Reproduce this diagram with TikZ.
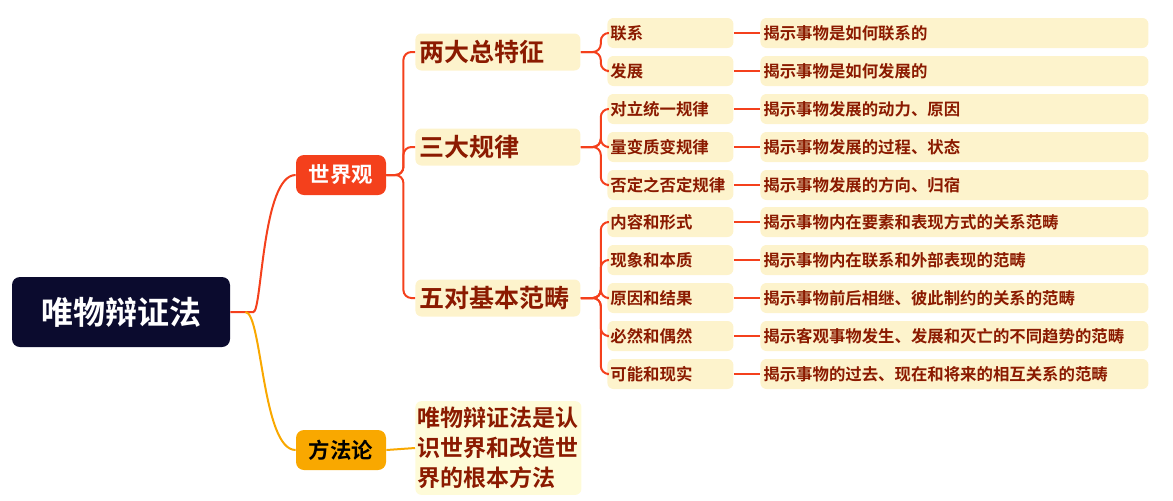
\documentclass[tikz,border=0pt]{standalone}
\usepackage{fontspec}
\setmainfont{Noto Sans CJK SC}[BoldFont={Noto Sans CJK SC Bold}]
\XeTeXlinebreaklocale "zh"
\XeTeXlinebreakskip=0pt plus 1pt
\definecolor{navy}{HTML}{0B0B2E}
\definecolor{redorange}{HTML}{F4401C}
\definecolor{amber}{HTML}{F9A800}
\definecolor{cream}{HTML}{FDF3CC}
\definecolor{paper}{HTML}{FEFBD8}
\definecolor{darkred}{HTML}{8B1A00}
\tikzset{
  root/.style={fill=navy,text=white,rounded corners=4pt,minimum width=109pt,minimum height=35pt,font=\bfseries\fontsize{16}{19}\selectfont},
  branch/.style={rounded corners=4pt,minimum width=45pt,minimum height=20pt,font=\bfseries\fontsize{10.7}{12}\selectfont},
  topic/.style={fill=cream,text=darkred,rounded corners=3pt,minimum width=82.5pt,minimum height=18.5pt,anchor=west,align=left,text width=78pt,inner xsep=2pt,font=\bfseries\fontsize{12.5}{14}\selectfont},
  sub/.style={fill=cream,text=darkred,rounded corners=3pt,minimum width=62pt,minimum height=15pt,anchor=west,text width=60pt,inner xsep=1.5pt,font=\bfseries\fontsize{8.2}{9}\selectfont},
  desc/.style={fill=cream,text=darkred,rounded corners=3pt,minimum width=194pt,minimum height=15pt,anchor=west,text width=191pt,inner xsep=1.5pt,font=\bfseries\fontsize{8.2}{9}\selectfont},
  link/.style={draw=redorange,line width=1pt,rounded corners=4pt}
}
\begin{document}
\begin{tikzpicture}[x=0.5pt,y=-0.5pt]
  \useasboundingbox (0,0) rectangle (1173,500);

  % root and the two branches
  \node[root] (root) at (121,312) {唯物辩证法};
  \node[branch,fill=redorange,text=white] (world) at (341,175) {世界观};
  \node[branch,fill=amber,text=black] (method) at (341,450) {方法论};

  % topics
  \node[topic] (two) at (415,52) {两大总特征};
  \node[topic] (three) at (415,147) {三大规律};
  \node[topic] (five) at (415,298) {五对基本范畴};
  \node[topic,fill=paper,text width=81pt,inner xsep=1pt,inner ysep=3pt,font=\bfseries\fontsize{11.5}{15}\selectfont] (way) at (415,448) {唯物辩证法是认识世界和改造世界的根本方法};

  % sub items and descriptions
  \foreach \i/\y/\s/\d in {
      1/33/联系/揭示事物是如何联系的,
      2/71/发展/揭示事物是如何发展的,
      3/109/对立统一规律/揭示事物发展的动力、原因,
      4/147/量变质变规律/揭示事物发展的过程、状态,
      5/185/否定之否定规律/揭示事物发展的方向、归宿,
      6/222/内容和形式/揭示事物内在要素和表现方式的关系范畴,
      7/260/现象和本质/揭示事物内在联系和外部表现的范畴,
      8/298/原因和结果/揭示事物前后相继、彼此制约的关系的范畴,
      9/336/必然和偶然/揭示客观事物发生、发展和灭亡的不同趋势的范畴,
      10/374/可能和现实/揭示事物的过去、现在和将来的相互关系的范畴} {
    \node[sub] (s\i) at (607,\y) {\s};
    \node[desc] (d\i) at (760,\y) {\d};
    \draw[link] (s\i.east) -- (d\i.west);
  }

  % connectors
  \draw[link] (root.east) -- ++(15,0) coordinate (fork)
    .. controls (262,312) and (262,175) .. (world.west);
  \draw[link,draw=amber] (fork) .. controls (262,312) and (262,450) .. (method.west);
  \draw[link,draw=amber] (method.east) -- (way.west);
  \foreach \t in {two,three,five}
    \draw[link] (world.east) -- ++(17,0) |- (\t.west);
  \foreach \i in {1,2}
    \draw[link] (two.east) -- ++(20,0) |- (s\i.west);
  \foreach \i in {3,4,5}
    \draw[link] (three.east) -- ++(20,0) |- (s\i.west);
  \foreach \i in {6,...,10}
    \draw[link] (five.east) -- ++(20,0) |- (s\i.west);
\end{tikzpicture}
\end{document}
